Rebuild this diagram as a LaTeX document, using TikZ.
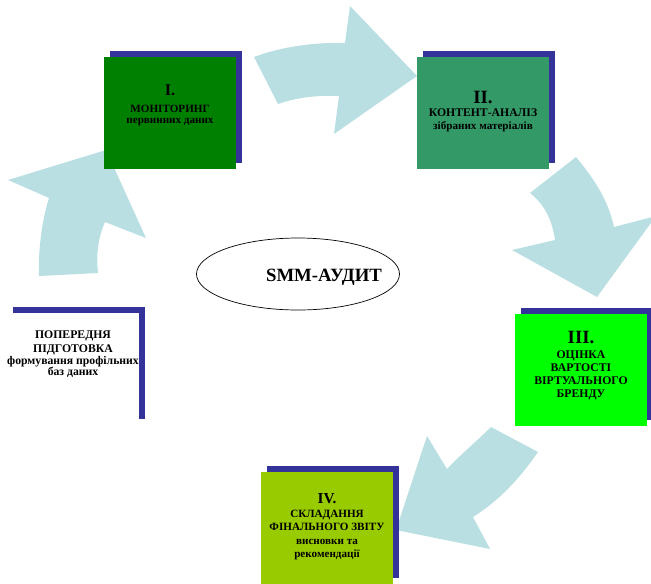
\documentclass[tikz,border=0pt]{standalone}
\usepackage{fontspec}
\setmainfont{Liberation Serif}
\usetikzlibrary{shapes.geometric,shadows}
\definecolor{arrowblue}{HTML}{B9DFE3}
\definecolor{shadowblue}{HTML}{333399}
\definecolor{stageone}{HTML}{008000}
\definecolor{stagetwo}{HTML}{339966}
\definecolor{stagethree}{HTML}{00FF00}
\definecolor{stagefour}{HTML}{99CC00}
\newcommand{\fsz}[2]{\fontsize{#1}{#2}\selectfont}

\begin{document}
\begin{tikzpicture}[x = .03cm, y = -.03cm, font = \bfseries,
	stage/.style = {minimum width = 3.96cm, minimum height = 3.36cm, inner sep = 0pt,
		drop shadow = {fill = shadowblue, opacity = 1, shadow xshift = .18cm, shadow yshift = .18cm}},
	caption/.style = {align = center, inner sep = 0pt, font = \bfseries\fsz{10}{11.2}},
	bigarrow/.style = {fill = arrowblue}]
	\useasboundingbox (0,0) rectangle (651,583);
	% curved arrows of the cycle
	\fill[bigarrow]
	(254,57) .. controls (280,47) and (315,42) .. (345,43)
	-- (350,6) -- (417,76) -- (334,134) -- (339,96)
	.. controls (315,95) and (295,98) .. (278,104) -- cycle
	;
	\fill[bigarrow]
	(576,157) .. controls (595,180) and (608,200) .. (614,227)
	-- (656,216) -- (597,297) -- (512,250) -- (555,240)
	.. controls (552,220) and (545,205) .. (530,193) -- cycle
	;
	\fill[bigarrow]
	(538,452) .. controls (520,478) and (500,500) .. (473,517)
	-- (490,549) -- (396,530) -- (427,436) -- (447,469)
	.. controls (460,455) and (478,440) .. (491,427) -- cycle
	;
	\fill[bigarrow]
	(39,276) .. controls (38,250) and (42,220) .. (49,198)
	-- (8,180) -- (106,150) -- (146,238) -- (105,222)
	.. controls (98,238) and (96,255) .. (98,273) -- cycle
	;
	% stages
	\node[stage, fill = white] (prep) at (73,369) {};
	\node[stage, fill = stageone] (mon) at (170,113) {};
	\node[stage, fill = stagetwo] (cont) at (483,112.5) {};
	\node[stage, fill = stagethree] (eval) at (581,369.5) {};
	\node[stage, fill = stagefour] (rep) at (327,528) {};
	\node[caption, font = \bfseries\fsz{10}{10.2}] (prep text) at ([yshift = .45cm]prep.center)
	{ПОПЕРЕДНЯ\\[1.8pt]ПІДГОТОВКА\\формування профільних\\[-.8pt]баз даних};
	\node[caption, font = \bfseries\fsz{9.5}{9.5}] (mon text) at ([yshift = .24cm]mon.center)
	{{\fsz{14}{14}I.}\\[5pt]МОНІТОРИНГ\\первинних даних};
	\node[caption] (cont text) at ([yshift = .04cm]cont.center)
	{{\fsz{16}{16}II.}\\КОНТЕНТ-АНАЛІЗ\\{\fsz{9.5}{11}зібраних матеріалів}};
	\node[caption, font = \bfseries\fsz{10}{11.1}] (eval text) at ([yshift = .12cm]eval.center)
	{{\fsz{16}{16}III.}\\[1.7pt]ОЦІНКА\\ВАРТОСТІ\\ВІРТУАЛЬНОГО\\БРЕНДУ};
	\node[caption, font = \bfseries\fsz{9.5}{11.5}] (rep text) at ([yshift = .03cm]rep.center)
	{{\fsz{13}{13}IV.}\\СКЛАДАННЯ\\ФІНАЛЬНОГО ЗВІТУ\\висновки та\\рекомендації};
	% centre
	\node[draw, ellipse, line width = .6pt, minimum width = 6.09cm, minimum height = 2.16cm] (audit) at (298,274) {};
	\node[font = \bfseries\fsz{16}{16}] (audit text) at ([xshift = .78cm, yshift = -.09cm]audit.center) {SMM-АУДИТ};
\end{tikzpicture}
\end{document}
